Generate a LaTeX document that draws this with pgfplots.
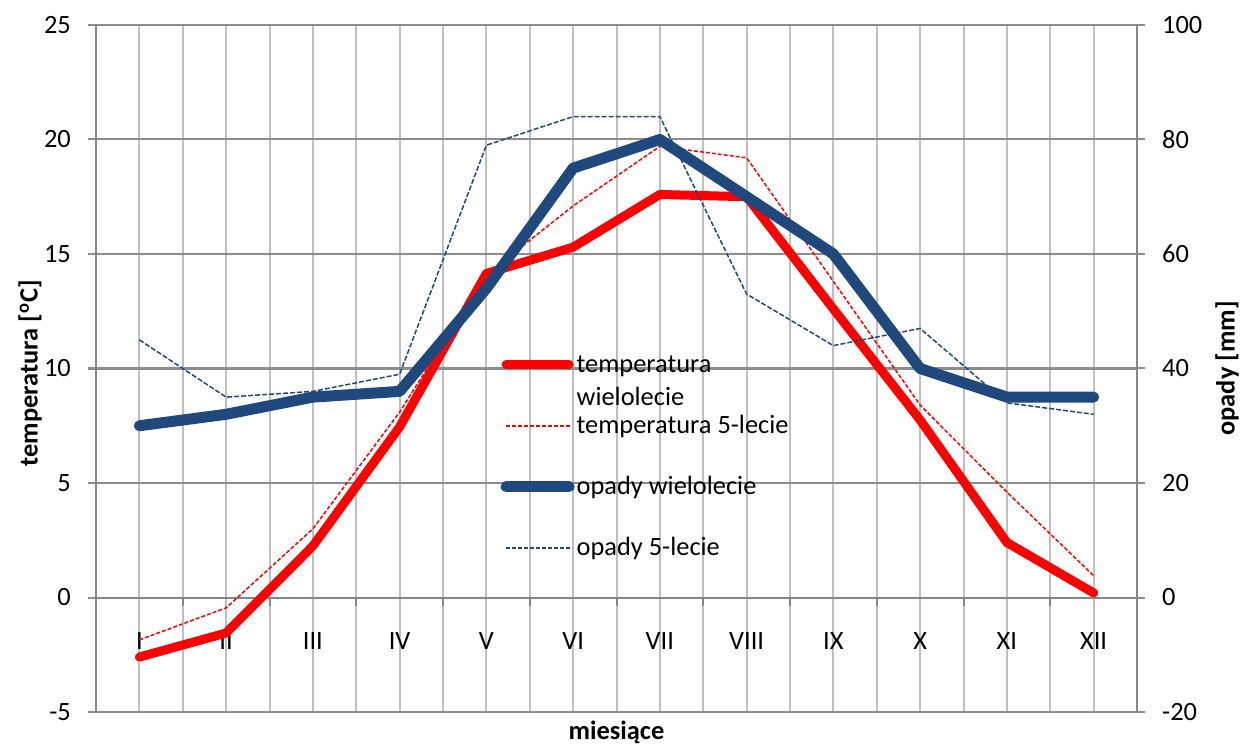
\documentclass[border=0pt]{standalone}
\usepackage{fontspec}
\setmainfont{Carlito}
\usepackage{pgfplots}
\pgfplotsset{compat=1.18}

\definecolor{tempred}{RGB}{255,0,0}
\definecolor{opblue}{RGB}{31,73,125}
\definecolor{gridv}{RGB}{191,191,191}
\definecolor{gridh}{RGB}{140,140,140}
\definecolor{axisgray}{RGB}{134,134,134}

\tikzset{
  twiel/.style={draw=tempred, line width=4.5pt, line cap=round, line join=round},
  tpiec/.style={draw=tempred, line width=0.75pt, dash pattern=on 2pt off 1pt},
  owiel/.style={draw=opblue, line width=5.5pt, line cap=round, line join=round},
  opiec/.style={draw=opblue, line width=0.75pt, dash pattern=on 2.5pt off 1pt},
}

\pgfplotsset{
  chartbase/.style={
    scale only axis, width=520.5pt, height=343.5pt,
    xmin=0.5, xmax=12.5,
    tick align=outside,
    major tick length=4pt,
    axis line style={draw=axisgray, line width=1pt},
    every tick label/.append style={font=\fontsize{13.2pt}{16pt}\selectfont},
    /pgf/number format/assume math mode=true,
    hide obscured x ticks=false, hide obscured y ticks=false,
    yticklabel style={xshift=-4pt},
    major y tick style={draw=gridh, line width=1pt},
    every axis plot/.append style={mark=none},
  },
  % probka ciagla
  legline/.style={legend image code/.code={\draw[#1] (0pt,3.7pt) -- (31.5pt,3.7pt);}},
  % probka przerywana, kreski rysowane osobno
  legdash/.style={legend image code/.code={%
    \foreach \k in {0,3,...,30} {\draw[draw=#1, line width=1pt] (\k pt,3.7pt) -- ++(2pt,0pt);}}},
}

\begin{document}
\fontsize{13.2pt}{16pt}\selectfont
\begin{tikzpicture}
\useasboundingbox (-48pt,-16pt) rectangle (572.5pt,356pt);

% temperatura, lewa os
\begin{axis}[
  chartbase,
  ymin=-5, ymax=25, ytick={-5,0,...,25},
  axis x line*=middle, axis y line*=left,
  xtick={1,...,12},
  xticklabels={I,II,III,IV,V,VI,VII,VIII,IX,X,XI,XII},
  minor xtick={0.5,1.5,...,12.5},
  xmajorgrids, xminorgrids, ymajorgrids,
  major x grid style={draw=gridv, line width=1pt},
  minor x grid style={draw=gridv, line width=1pt},
  major y grid style={draw=gridh, line width=1pt},
  major x tick style={draw=none},
  minor x tick style={draw=axisgray, line width=1pt},
  minor tick length=4pt,
  xticklabel style={anchor=base, yshift=-21.75pt},
  ylabel={\textbf{temperatura [\textsuperscript{o}C]}},
  ylabel style={at={(axis description cs:-0.0634,0.493)}, anchor=center},
  xlabel={\textbf{miesiące}},
  xlabel style={at={(axis description cs:0.5,0)}, anchor=base, yshift=-13.6pt},
  legend style={
    at={(axis description cs:0.3887,0.524)}, anchor=north west,
    draw=none, fill=none, inner sep=0pt, outer sep=0pt,
    column sep=1pt, row sep=0pt,
    nodes={anchor=base west, inner sep=0pt, text height=10pt, text depth=20.5pt,
      font=\fontsize{13.2pt}{16pt}\selectfont},
    cells={anchor=base west},
  },
]
\addplot[twiel, forget plot] coordinates {
(1,-2.6) (2,-1.55) (3,2.25) (4,7.45) (5,14.15) (6,15.3)
(7,17.6) (8,17.5) (9,12.6) (10,7.75) (11,2.4) (12,0.2)
};
\addplot[tpiec, forget plot] coordinates {
(1,-1.85) (2,-0.45) (3,3.0) (4,8.1) (5,14.1) (6,17.1)
(7,19.7) (8,19.2) (9,13.8) (10,8.4) (11,4.6) (12,0.95)
};
\addlegendimage{legline=twiel}
\addlegendentry{\parbox[t]{4cm}{\fontsize{13.2pt}{16.5pt}\selectfont temperatura\\wielolecie}}
\addlegendimage{legdash=tempred}
\addlegendentry{temperatura 5-lecie}
\addlegendimage{legline=owiel}
\addlegendentry{opady wielolecie}
\addlegendimage{legdash=opblue}
\addlegendentry{opady 5-lecie}
\end{axis}

% opady, prawa os
\begin{axis}[
  chartbase,
  ymin=-20, ymax=100, ytick={-20,0,...,100},
  axis x line=none, axis y line*=right,
  yticklabel style={xshift=8pt},
  ylabel={\textbf{opady [mm]}},
  ylabel style={at={(axis description cs:1.0865,0.5)}, anchor=center},
]
\addplot[owiel] coordinates {
(1,30) (2,32) (3,35) (4,36) (5,54) (6,75)
(7,80) (8,70) (9,60) (10,40) (11,35) (12,35)
};
\addplot[opiec] coordinates {
(1,45) (2,35) (3,36) (4,39) (5,79) (6,84)
(7,84) (8,53) (9,44) (10,47) (11,34) (12,32)
};
\end{axis}
\end{tikzpicture}
\end{document}
